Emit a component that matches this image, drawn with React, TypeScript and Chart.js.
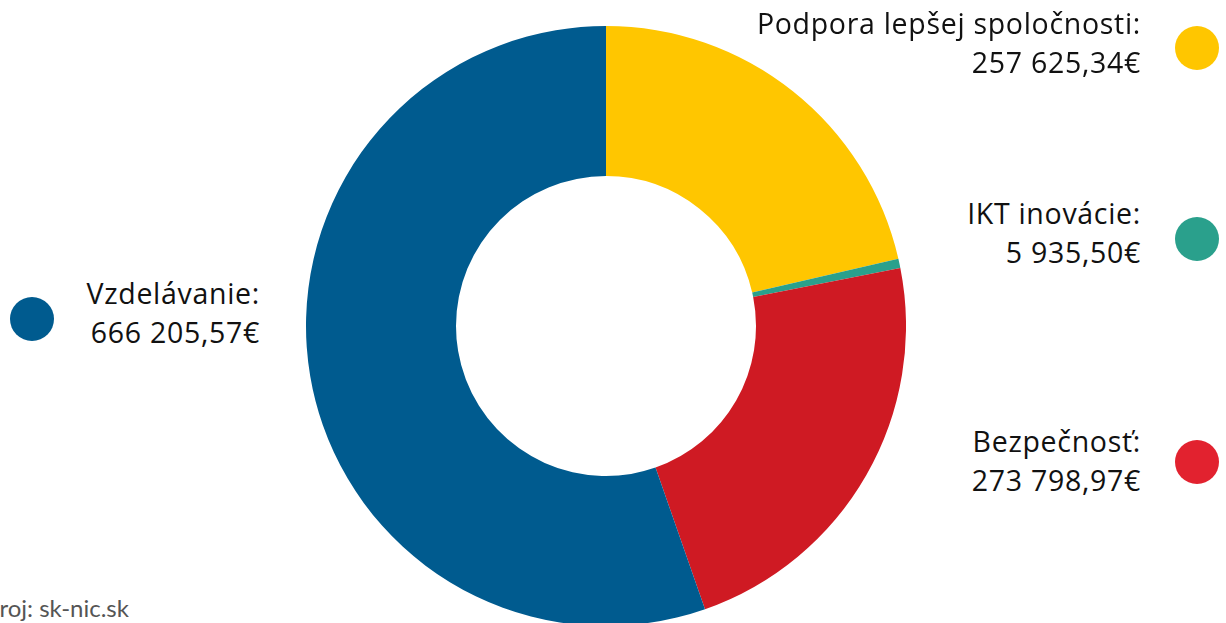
import React, { useEffect, useRef } from "react";
import { Chart, registerables } from "chart.js";

Chart.register(...registerables);

const categories = ["Podpora lepšej spoločnosti", "IKT inovácie", "Bezpečnosť", "Vzdelávanie"];
const values = [257625.34, 5935.5, 273798.97, 666205.57];
const sliceColors = ["#FFC600", "#2AA08C", "#CF1A23", "#005B8F"];
const dotColors = ["#FFC600", "#2AA08C", "#E2222F", "#005B8F"];
const sourceText = "Zdroj: sk-nic.sk";

function formatEuro(v: number): string {
  const [intPart, dec] = v.toFixed(2).split(".");
  const grouped = intPart.replace(/\B(?=(\d{3})+(?!\d))/g, " ");
  return `${grouped},${dec}€`;
}

const LABEL_FONT = "'Open Sans', 'Noto Sans', sans-serif";
const NOTE_FONT = "Lato, 'Open Sans', sans-serif";

type LabelPos = { top: number; side: "left" | "right"; dotY: number };
const labelPositions: LabelPos[] = [
  { top: 4, side: "right", dotY: 48 },
  { top: 194, side: "right", dotY: 239 },
  { top: 422, side: "right", dotY: 462 },
  { top: 274, side: "left", dotY: 319 },
];

export default function App() {
  const canvasRef = useRef<HTMLCanvasElement | null>(null);

  useEffect(() => {
    if (!canvasRef.current) return;
    const chart = new Chart(canvasRef.current, {
      type: "doughnut",
      data: {
        labels: categories,
        datasets: [
          {
            data: values,
            backgroundColor: sliceColors,
            borderWidth: 0,
          },
        ],
      },
      options: {
        responsive: false,
        animation: false,
        cutout: "50%",
        layout: { padding: 0 },
        plugins: {
          legend: { display: false },
          tooltip: { enabled: false },
          title: { display: false },
        },
      },
    });
    return () => chart.destroy();
  }, []);

  return (
    <div
      style={{
        position: "fixed",
        left: 0,
        top: 0,
        width: 1226,
        height: 623,
        overflow: "hidden",
        background: "#ffffff",
      }}
    >
      <canvas
        ref={canvasRef}
        width={600}
        height={600}
        style={{ position: "absolute", left: 306, top: 26, width: 600, height: 600 }}
      />
      {categories.map((c, i) => {
        const p = labelPositions[i];
        const right = p.side === "right" ? 85 : 1226 - 260;
        const dotX = p.side === "right" ? 1197 : 32;
        return (
          <React.Fragment key={c}>
            <div
              style={{
                position: "absolute",
                right,
                top: p.top,
                textAlign: "right",
                fontSize: 28.5,
                letterSpacing: "0.7px",
                lineHeight: "39px",
                color: "#111",
                whiteSpace: "nowrap",
                fontFamily: LABEL_FONT,
              }}
            >
              <div>{c}:</div>
              <div>{formatEuro(values[i])}</div>
            </div>
            <div
              style={{
                position: "absolute",
                left: dotX - 22,
                top: p.dotY - 22,
                width: 44,
                height: 44,
                borderRadius: "50%",
                background: dotColors[i],
              }}
            />
          </React.Fragment>
        );
      })}
      <div
        style={{
          position: "absolute",
          left: -28,
          top: 597,
          fontSize: 24,
          lineHeight: "22px",
          color: "#555",
          whiteSpace: "nowrap",
          fontFamily: NOTE_FONT,
        }}
      >
        {sourceText}
      </div>
    </div>
  );
}
